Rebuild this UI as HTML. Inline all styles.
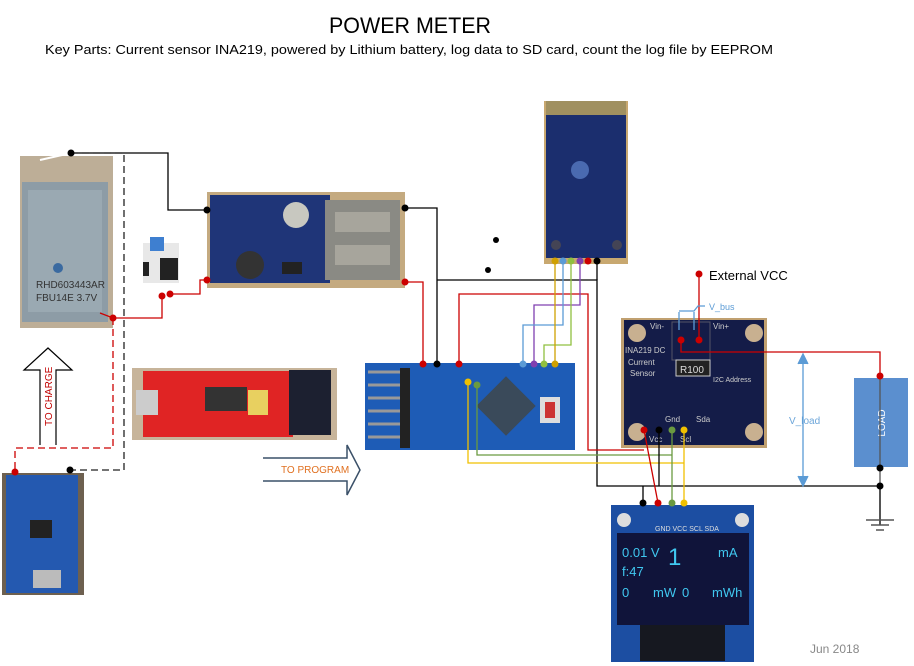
<!DOCTYPE html>
<html><head><meta charset="utf-8"><style>
body{margin:0;background:#fff;width:914px;height:666px;overflow:hidden}
svg{display:block}
text{font-family:"Liberation Sans",sans-serif}
</style></head><body>
<svg width="914" height="666" viewBox="0 0 914 666" xmlns="http://www.w3.org/2000/svg">
<text x="410" y="33" font-size="22" text-anchor="middle" textLength="162" lengthAdjust="spacingAndGlyphs">POWER METER</text>
<text x="45" y="54" font-size="13" textLength="728" lengthAdjust="spacingAndGlyphs">Key Parts: Current sensor INA219, powered by Lithium battery, log data to SD card, count the log file by EEPROM</text>

<!-- battery -->
<rect x="20" y="156" width="93" height="172" fill="#bdae97"/>
<rect x="22" y="182" width="86" height="140" fill="#8d9ca6"/>
<rect x="28" y="190" width="74" height="122" fill="#9aa9b2"/>
<circle cx="58" cy="268" r="5" fill="#3a6aa0"/>
<text x="36" y="288" font-size="10" fill="#333">RHD603443AR</text>
<text x="36" y="301" font-size="10" fill="#333">FBU14E  3.7V</text>
<!-- switch -->
<rect x="143" y="243" width="36" height="40" fill="#e8e8e8"/>
<rect x="150" y="237" width="14" height="14" fill="#3e7fd0"/>
<rect x="160" y="258" width="18" height="22" fill="#222"/>
<rect x="143" y="262" width="6" height="14" fill="#222"/>
<!-- boost -->
<rect x="207" y="192" width="198" height="96" fill="#c4aa80"/>
<rect x="210" y="195" width="120" height="88" fill="#1f3578"/>
<rect x="325" y="200" width="75" height="80" fill="#8a8a84"/>
<rect x="335" y="212" width="55" height="20" fill="#a7a59c"/>
<rect x="335" y="245" width="55" height="20" fill="#a7a59c"/>
<circle cx="296" cy="215" r="13" fill="#c8c8c0"/>
<circle cx="250" cy="265" r="14" fill="#333"/>
<rect x="282" y="262" width="20" height="12" fill="#222"/>

<!-- SD -->
<rect x="544" y="101" width="84" height="163" fill="#c8a870"/>
<rect x="546" y="110" width="80" height="148" fill="#1b2e6e"/>
<rect x="546" y="101" width="80" height="14" fill="#a09060"/>
<circle cx="580" cy="170" r="9" fill="#4a6ab0"/>
<circle cx="556" cy="245" r="5" fill="#445"/>
<circle cx="617" cy="245" r="5" fill="#445"/>

<!-- FTDI -->
<rect x="132" y="368" width="205" height="72" fill="#c7b49a"/>
<rect x="143" y="371" width="150" height="66" fill="#e02424"/>
<rect x="289" y="370" width="42" height="65" fill="#1c2030"/>
<rect x="136" y="390" width="22" height="25" fill="#ccc"/>
<rect x="205" y="387" width="42" height="24" fill="#333"/>
<rect x="248" y="390" width="20" height="25" fill="#e8d060"/>

<!-- arrows -->
<path d="M40,445 V370 H24 L48,348 L72,370 H56 V445" fill="#fff" stroke="#000" stroke-width="1.2"/>
<text transform="translate(52,426) rotate(-90)" font-size="10" fill="#c00000">TO CHARGE</text>
<path d="M263,458 H347 V445 L360,470 L347,495 V481 H263" fill="#fff" stroke="#3a5068" stroke-width="1.5"/>
<path d="M263,459 V480" stroke="#fff" stroke-width="3"/>
<text x="281" y="473" font-size="10" fill="#e07020">TO PROGRAM</text>

<!-- charger -->
<rect x="2" y="473" width="82" height="122" fill="#6d6050"/>
<rect x="6" y="475" width="72" height="118" fill="#2459b0"/>
<rect x="33" y="570" width="28" height="18" fill="#bbb"/>
<rect x="30" y="520" width="22" height="18" fill="#222"/>

<!-- arduino -->
<rect x="365" y="363" width="210" height="87" fill="#1e5cb6"/>
<g stroke="#999" stroke-width="3"><path d="M368,372H405M368,385H405M368,398H405M368,411H405M368,424H405M368,437H405"/></g>
<rect x="400" y="368" width="10" height="80" fill="#222"/>
<rect x="485" y="385" width="42" height="42" fill="#3a4a5a" transform="rotate(45 506 406)"/>
<rect x="540" y="397" width="20" height="26" fill="#ddd"/><rect x="545" y="402" width="10" height="16" fill="#c33"/>

<!-- INA -->
<rect x="621" y="318" width="146" height="130" fill="#c0a070"/>
<rect x="624" y="320" width="140" height="125" fill="#141c48"/>
<circle cx="637" cy="333" r="9" fill="#c8b090"/><circle cx="754" cy="333" r="9" fill="#c8b090"/>
<circle cx="637" cy="432" r="9" fill="#c8b090"/><circle cx="754" cy="432" r="9" fill="#c8b090"/>
<rect x="672" y="322" width="38" height="38" fill="none" stroke="#556" />
<rect x="676" y="360" width="34" height="16" fill="#222" stroke="#ccc"/>
<text x="680" y="373" font-size="10" fill="#ddd">R100</text>
<text x="625" y="353" font-size="8" fill="#ccc">INA219 DC</text>
<text x="628" y="365" font-size="8" fill="#ccc">Current</text>
<text x="630" y="376" font-size="8" fill="#ccc">Sensor</text>
<text x="650" y="329" font-size="8" fill="#ccc">Vin-</text><text x="713" y="329" font-size="8" fill="#ccc">Vin+</text>
<text x="713" y="382" font-size="7" fill="#ccc">I2C Address</text>
<text x="665" y="422" font-size="8" fill="#ccc">Gnd</text><text x="696" y="422" font-size="8" fill="#ccc">Sda</text>
<text x="649" y="442" font-size="8" fill="#ccc">Vcc</text><text x="680" y="442" font-size="8" fill="#ccc">Scl</text>

<!-- LOAD -->
<rect x="854" y="378" width="54" height="89" fill="#5b8fcf"/>
<text transform="translate(885,423) rotate(-90)" font-size="10" fill="#fff" text-anchor="middle">LOAD</text>

<!-- OLED -->
<rect x="611" y="505" width="143" height="157" fill="#1c4ea2"/>
<rect x="617" y="533" width="132" height="92" fill="#10143a"/>
<rect x="640" y="625" width="85" height="36" fill="#161820"/>
<circle cx="624" cy="520" r="7" fill="#ddd"/><circle cx="742" cy="520" r="7" fill="#ddd"/>
<text x="655" y="531" font-size="7" fill="#ddd">GND VCC SCL SDA</text>
<g fill="#40c8f0" font-size="13"><text x="622" y="557">0.01 V</text><text x="668" y="565" font-size="24">1</text><text x="718" y="557">mA</text><text x="622" y="576">f:47</text><text x="622" y="597">0</text><text x="653" y="597">mW</text><text x="682" y="597">0</text><text x="712" y="597">mWh</text></g>
<text x="810" y="653" font-size="12" fill="#888">Jun 2018</text>

<!-- wires -->
<g fill="none" stroke-width="1.3">
<path d="M71,153 H168 V210 H207" stroke="#000"/>
<path d="M71,153 L40,160" stroke="#fff" stroke-width="2"/>
<path d="M71,153 H124 V470 H70" stroke="#222" stroke-dasharray="7,4"/>
<path d="M113,318 V448 H15 V472" stroke="#c00" stroke-dasharray="7,4"/>
<path d="M100,313 L113,318 H162 V296 M170,294 H200 V280 H207" stroke="#c00"/>
<path d="M405,208 H437 V364" stroke="#000"/>
<path d="M405,282 H423 V364" stroke="#c00"/>
<path d="M437,280 H597 V486 H880" stroke="#000"/>
<path d="M880,486 V378" stroke="#555"/>
<path d="M880,486 V525" stroke="#555" stroke-width="2"/>
<path d="M459,364 V294 H588 V450 H644" stroke="#c00"/>
<path d="M534,364 V305 H580 V261" stroke="#8040b0"/>
<path d="M523,364 V325 H563 V261" stroke="#5b9bd5"/>
<path d="M544,364 V345 H571 V261" stroke="#90c040"/>
<path d="M555,364 V261" stroke="#d0a000"/>
<path d="M597,261 V280" stroke="#000"/>
<path d="M468,382 V463 H684" stroke="#f0c000"/>
<path d="M477,385 V455 H672" stroke="#6a9a40"/>
<path d="M644,430 L658,503" stroke="#c00"/>
<path d="M659,430 V486 M643,486 V503" stroke="#000"/>
<path d="M672,430 V503" stroke="#6a9a40"/>
<path d="M684,430 V503" stroke="#f0c000"/>
<path d="M699,274 V340 M681,340 V352 H880 V376" stroke="#c00"/>
<path d="M803,356 V484" stroke="#5b9bd5"/>
<path d="M798,364 L803,354 L808,364 M798,476 L803,486 L808,476" fill="#5b9bd5" stroke="#5b9bd5"/>
<path d="M679,312 V330 M694,312 V330 M679,311 H694 L698,306 H705" stroke="#5b9bd5"/>
<path d="M866,520 H894 M871,525 H889 M876,530 H884" stroke="#555" stroke-width="1.5"/>
</g>
<text x="709" y="310" font-size="9" fill="#5b9bd5">V_bus</text>
<text x="789" y="424" font-size="10" fill="#5b9bd5" fill-opacity="0.9">V_load</text>
<text x="709" y="280" font-size="13">External VCC</text>

<!-- dots -->
<g fill="#000"><circle cx="71" cy="153" r="3.5"/><circle cx="207" cy="210" r="3.5"/><circle cx="405" cy="208" r="3.5"/><circle cx="70" cy="470" r="3.5"/><circle cx="437" cy="364" r="3.5"/><circle cx="597" cy="261" r="3.5"/><circle cx="880" cy="486" r="3.5"/><circle cx="880" cy="468" r="3.5"/><circle cx="659" cy="430" r="3.5"/><circle cx="643" cy="503" r="3.5"/><circle cx="496" cy="240" r="3"/><circle cx="488" cy="270" r="3"/></g>
<g fill="#c00"><circle cx="113" cy="318" r="3.5"/><circle cx="15" cy="472" r="3.5"/><circle cx="162" cy="296" r="3.5"/><circle cx="170" cy="294" r="3.5"/><circle cx="207" cy="280" r="3.5"/><circle cx="405" cy="282" r="3.5"/><circle cx="423" cy="364" r="3.5"/><circle cx="459" cy="364" r="3.5"/><circle cx="588" cy="261" r="3.5"/><circle cx="644" cy="430" r="3.5"/><circle cx="658" cy="503" r="3.5"/><circle cx="699" cy="274" r="3.5"/><circle cx="681" cy="340" r="3.5"/><circle cx="699" cy="340" r="3.5"/><circle cx="880" cy="376" r="3.5"/></g>
<circle cx="555" cy="261" r="3.5" fill="#d0a000"/><circle cx="563" cy="261" r="3.5" fill="#5b9bd5"/><circle cx="571" cy="261" r="3.5" fill="#90c040"/><circle cx="580" cy="261" r="3.5" fill="#8040b0"/>
<circle cx="523" cy="364" r="3.5" fill="#5b9bd5"/><circle cx="534" cy="364" r="3.5" fill="#8040b0"/><circle cx="544" cy="364" r="3.5" fill="#90c040"/><circle cx="555" cy="364" r="3.5" fill="#d0a000"/>
<circle cx="468" cy="382" r="3.5" fill="#f0c000"/><circle cx="477" cy="385" r="3.5" fill="#6a9a40"/>
<circle cx="672" cy="430" r="3.5" fill="#6a9a40"/><circle cx="684" cy="430" r="3.5" fill="#f0c000"/><circle cx="672" cy="503" r="3.5" fill="#6a9a40"/><circle cx="684" cy="503" r="3.5" fill="#f0c000"/>
</svg>
</body></html>
